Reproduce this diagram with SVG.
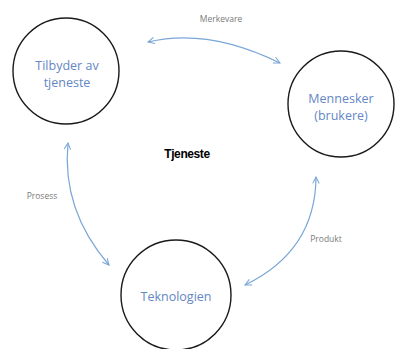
<svg xmlns="http://www.w3.org/2000/svg" width="395" height="349" viewBox="0 0 395 349">
  <style>
    .node { fill: #ffffff; stroke: #1a1a1a; stroke-width: 1.4; }
    .ntext { font-family: "Open Sans", "Noto Sans", sans-serif; font-size: 12.5px; fill: #6487c4; text-anchor: middle; }
    .label { font-family: "Open Sans", "Noto Sans", sans-serif; font-size: 8.5px; fill: #7a7a7a; text-anchor: middle; }
    .title { font-family: "Liberation Sans", Arial, sans-serif; font-size: 12px; font-weight: bold; fill: #000000; text-anchor: middle; letter-spacing: -0.4px; }
    .conn { fill: none; stroke: #7aa6d6; stroke-width: 1.2; marker-start: url(#arr); marker-end: url(#arr); }
  </style>
  <defs>
    <marker id="arr" viewBox="0 0 10 10" refX="9" refY="5" markerWidth="8" markerHeight="8" markerUnits="userSpaceOnUse" orient="auto-start-reverse">
      <path d="M1,1 L9,5 L1,9" fill="none" stroke="#7aa6d6" stroke-width="1.3"/>
    </marker>
  </defs>
  <rect width="395" height="349" fill="#ffffff"/>
  <g id="connectors">
    <path class="conn" d="M148,42 Q208,27.5 280,63"/>
    <path class="conn" d="M68,143 Q61.5,210 109,265"/>
    <path class="conn" d="M316,177 Q315.5,251 245,285"/>
  </g>
  <g id="node-tilbyder">
    <circle class="node" cx="66" cy="71" r="53"/>
    <text class="ntext" x="67" y="70">Tilbyder av</text>
    <text class="ntext" x="67" y="87">tjeneste</text>
  </g>
  <g id="node-mennesker">
    <circle class="node" cx="341" cy="104" r="53"/>
    <text class="ntext" x="341" y="103">Mennesker</text>
    <text class="ntext" x="341" y="120">(brukere)</text>
  </g>
  <g id="node-teknologien">
    <circle class="node" cx="176" cy="295" r="55"/>
    <text class="ntext" x="176" y="301">Teknologien</text>
  </g>
  <g id="labels">
    <text class="label" x="221" y="22">Merkevare</text>
    <text class="label" x="42" y="199">Prosess</text>
    <text class="label" x="326" y="242">Produkt</text>
    <text class="title" x="187" y="158">Tjeneste</text>
  </g>
</svg>
